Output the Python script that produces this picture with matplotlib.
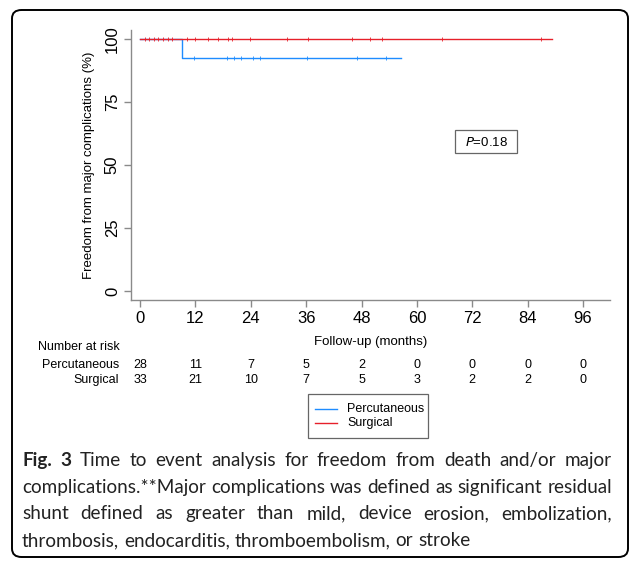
import matplotlib
matplotlib.use("Agg")
import matplotlib.pyplot as plt
from matplotlib.patches import FancyBboxPatch, Rectangle
from matplotlib.lines import Line2D

# ---------------- data ----------------
perc_times = [0, 9, 56.5]
perc_surv = [100, 92.3, 92.3]
perc_censor = [11.8, 18.8, 20.4, 21.9, 24.5, 26.0, 36.1, 47.1, 53.4]

surg_times = [0, 89.3]
surg_surv = [100, 100]
surg_censor = [1, 2, 3, 4, 5, 6, 7, 10.1, 11.9, 14.8, 17.0, 19.1, 19.9, 23.8,
               31.8, 36.5, 45.9, 49.8, 52.4, 65.4, 87.0]

x_ticks = [0, 12, 24, 36, 48, 60, 72, 84, 96]
y_ticks = [0, 25, 50, 75, 100]
risk_perc = [28, 11, 7, 5, 2, 0, 0, 0, 0]
risk_surg = [33, 21, 10, 7, 5, 3, 2, 2, 0]
groups = ["Percutaneous", "Surgical"]
p_text = "=0.18"

caption_lines = [
    "Time to event analysis for freedom from death and/or major",
    "complications.**Major complications was defined as significant residual",
    "shunt defined as greater than mild, device erosion, embolization,",
    "thrombosis, endocarditis, thromboembolism, or stroke",
]

# ---------------- styling ----------------
W, H = 634, 563
DPI = 100
BLUE = "#1E8CFF"
RED = "#E6202A"
GRAY = "#8a8a8a"
plt.rcParams["font.family"] = ["Liberation Sans", "DejaVu Sans"]

fig = plt.figure(figsize=(W / DPI, H / DPI), dpi=DPI)


def fx(x):
    return x / W


def fy(y):
    return 1 - y / H


# outer rounded frame
frame = FancyBboxPatch((fx(12), fy(557)), fx(616), (547) / H,
                       boxstyle="round,pad=0,rounding_size=0.015",
                       transform=fig.transFigure, fill=False,
                       edgecolor="black", linewidth=1.4, zorder=0)
fig.patches.append(frame)

# axes
ax_l, ax_r, ax_t, ax_b = 131, 610, 30, 300
ax = fig.add_axes([fx(ax_l), fy(ax_b), (ax_r - ax_l) / W, (ax_b - ax_t) / H])
ax.set_xlim(-1.95, 101.85)
ax.set_ylim(-3.6, 103.6)
for s in ["top", "right"]:
    ax.spines[s].set_visible(False)
for s in ["left", "bottom"]:
    ax.spines[s].set_color(GRAY)
    ax.spines[s].set_linewidth(1.0)
ax.set_xticks(x_ticks)
ax.set_yticks(y_ticks)
ax.tick_params(axis="both", color=GRAY, length=5, width=1.0, labelsize=12,
               pad=3)
ax.set_yticklabels([str(v) for v in y_ticks], rotation=90, va="center")
ax.set_ylabel("Freedom from major complications (%)", fontsize=9.5, labelpad=7)

ax.step(perc_times, perc_surv, where="post", color=BLUE, lw=1.0, zorder=3)
ax.step(surg_times, surg_surv, where="post", color=RED, lw=1.0, zorder=4)


def surv_at(times, surv, t):
    v = surv[0]
    for ti, si in zip(times, surv):
        if t >= ti:
            v = si
    return v


ax.plot(perc_censor, [surv_at(perc_times, perc_surv, t) for t in perc_censor],
        ls="none", marker="|", ms=2.5, mew=0.6, color=BLUE, zorder=3)
ax.plot(surg_censor, [surv_at(surg_times, surg_surv, t) for t in surg_censor],
        ls="none", marker="|", ms=2.5, mew=0.6, color=RED, zorder=4)

# P-value box
fig.patches.append(Rectangle((fx(455), fy(153)), fx(62), 23 / H,
                             transform=fig.transFigure, fill=False,
                             edgecolor="#666666", linewidth=0.9))
fig.text(fx(486), fy(142), r"$\mathit{P}$" + p_text, ha="center", va="center",
         fontsize=9.5)

# x label & number at risk
fig.text(fx((ax_l + ax_r) / 2), fy(342), "Follow-up (months)", ha="center",
         va="center", fontsize=9.5)
fig.text(fx(38), fy(347), "Number at risk", ha="left", va="center", fontsize=9)
for row_y, name, vals in [(365, groups[0], risk_perc), (380, groups[1], risk_surg)]:
    fig.text(fx(119), fy(row_y), name, ha="right", va="center", fontsize=9)
    for t, v in zip(x_ticks, vals):
        xd = ax.transData.transform((t, 0))[0]
        fig.text(xd / (W), fy(row_y), str(v), ha="center", va="center",
                 fontsize=9)

# legend box
fig.patches.append(Rectangle((fx(308), fy(438)), fx(120), 44 / H,
                             transform=fig.transFigure, fill=False,
                             edgecolor="#666666", linewidth=0.9))
for yy, col, name in [(409, BLUE, groups[0]), (423, RED, groups[1])]:
    fig.lines.append(Line2D([fx(315), fx(337)], [fy(yy), fy(yy)],
                            transform=fig.transFigure, color=col, lw=1.0))
    fig.text(fx(347), fy(yy), name, ha="left", va="center", fontsize=9)

# caption with justification
cap_font = "Lato"
cap_size = 13.0
left_x, right_x = 22, 612
line_ys = [466, 493, 519, 546]  # baselines
fig.canvas.draw()
renderer = fig.canvas.get_renderer()


def text_width(s, weight="normal"):
    t = fig.text(0, 0, s, fontsize=cap_size, family=cap_font, weight=weight)
    w = t.get_window_extent(renderer).width
    t.remove()
    return w


# scale fontsize so the longest line fits with normal spacing
w2 = text_width(caption_lines[1])
cap_size = min(cap_size * 588 / w2, 14.5)

for i, (line, yy) in enumerate(zip(caption_lines, line_ys)):
    words = line.split(" ")
    items = [(w, "normal") for w in words]
    if i == 0:
        items = [("Fig.", "bold"), ("3", "bold")] + items
    widths = [text_width(w, wt) for w, wt in items]
    if i < 3:
        gap = (right_x - left_x - sum(widths)) / (len(items) - 1)
    else:
        gap = text_width("a b") - text_width("a") - text_width("b")
    x = left_x
    for (w, wt), ww in zip(items, widths):
        fig.text(fx(x), fy(yy), w, fontsize=cap_size, family=cap_font,
                 weight=wt, ha="left", va="baseline", color="#222222")
        x += ww + gap

fig.savefig("out.png", dpi=DPI)
